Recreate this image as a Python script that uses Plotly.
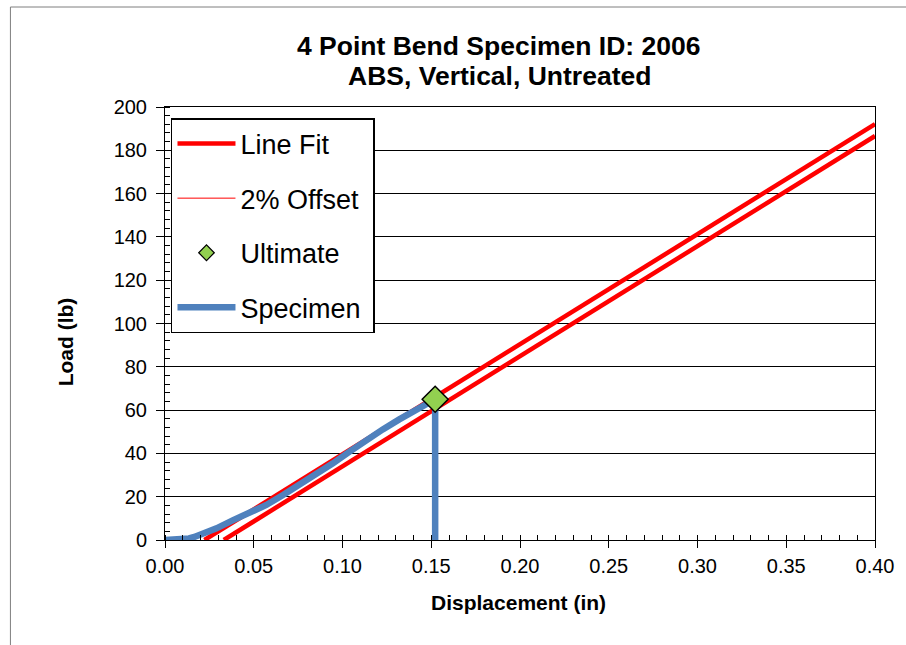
import plotly.graph_objects as go

# ---- data ----
disp = [0.0, 0.0060, 0.0103, 0.0135, 0.0165, 0.0195, 0.0225, 0.029, 0.0384, 0.0478,
        0.0571, 0.0665, 0.0758, 0.0852, 0.0946, 0.104, 0.1133, 0.1227, 0.132,
        0.1414, 0.147, 0.1522, 0.1522]
load = [0.0, 0.0, 0.2, 0.7, 1.4, 2.2, 3.1, 5.4, 9.2, 12.8,
        16.2, 20.8, 25.4, 30.0, 35.4, 40.8, 46.2, 51.1, 55.7,
        60.0, 62.8, 65.0, 0.0]
fit_x = [0.0222, 0.40]
fit_y = [0.0, 192.1]
offset_x = [0.0331, 0.40]
offset_y = [0.0, 186.6]
ult_x = [0.1522]
ult_y = [65.0]

title_lines = ["4 Point Bend Specimen ID: 2006", "ABS, Vertical, Untreated"]
x_title = "Displacement (in)"
y_title = "Load (lb)"

FONT = "Liberation Sans, Arial, sans-serif"
W, H = 906, 645
ML, MR, MT, MB = 165, 29, 107, 105
PW, PH = W - ML - MR, H - MT - MB


def px(x):
    return (x - ML) / PW


def py(y):
    return (H - MB - y) / PH


fig = go.Figure()

fig.add_trace(go.Scatter(x=fit_x, y=fit_y, mode="lines", name="Line Fit",
                         line=dict(color="#FF0000", width=4.5),
                         legendgroup="a", legendrank=1))
fig.add_trace(go.Scatter(x=offset_x, y=offset_y, mode="lines", name="2% Offset",
                         line=dict(color="#FF0000", width=4.5), showlegend=False))
fig.add_trace(go.Scatter(x=[None], y=[None], mode="lines", name="2% Offset",
                         line=dict(color="#FF0000", width=1),
                         legendgroup="b", legendrank=2))
fig.add_trace(go.Scatter(x=disp, y=load, mode="lines", name="Specimen&nbsp;",
                         line=dict(color="#4F81BD", width=6.5),
                         legendgroup="d", legendrank=4))
fig.add_trace(go.Scatter(x=ult_x, y=ult_y, mode="markers", name="Ultimate",
                         marker=dict(symbol="diamond", size=20, color="#92D050",
                                     line=dict(color="black", width=1.5)),
                         showlegend=False))
fig.add_trace(go.Scatter(x=[None], y=[None], mode="markers", name="Ultimate",
                         marker=dict(symbol="diamond", size=12, color="#92D050",
                                     line=dict(color="black", width=1.2)),
                         legendgroup="c", legendrank=3))

fig.update_layout(
    width=W, height=H,
    margin=dict(l=ML, r=MR, t=MT, b=MB, pad=0),
    paper_bgcolor="white", plot_bgcolor="white",
    font=dict(family=FONT, color="black"),
    showlegend=True,
    legend=dict(x=px(171), y=py(118), xanchor="left", yanchor="top",
                bgcolor="white", bordercolor="black", borderwidth=1.5,
                font=dict(size=27, family=FONT, color="black"),
                itemwidth=58, traceorder="grouped", tracegroupgap=16.5),
    xaxis=dict(range=[0, 0.4], dtick=0.05, tickformat=".2f",
               showgrid=False, zeroline=False,
               showline=True, linecolor="black", linewidth=1, mirror=True,
               ticks="outside", ticklen=7, tickcolor="black", tickwidth=1,
               tickfont=dict(size=20, family=FONT, color="black"),
               ticklabelstandoff=1,
               minor=dict(dtick=0.01, ticks="inside", ticklen=5,
                          tickcolor="black", showgrid=False)),
    yaxis=dict(range=[0, 200], dtick=20,
               showgrid=True, gridcolor="black", gridwidth=1, zeroline=False,
               showline=True, linecolor="black", linewidth=1, mirror=True,
               ticks="outside", ticklen=8, tickcolor="black", tickwidth=1,
               tickfont=dict(size=20, family=FONT, color="black"),
               ticklabelstandoff=5,
               minor=dict(dtick=4, ticks="inside", ticklen=5,
                          tickcolor="black", showgrid=False)),
)

# outer chart-area border (extends beyond the window on the right/bottom)
fig.add_shape(type="rect", xref="paper", yref="paper",
              x0=px(10), x1=px(W + 20), y0=py(H + 20), y1=py(7),
              line=dict(color="#7f7f7f", width=1), fillcolor="rgba(0,0,0,0)",
              layer="below")

fig.add_annotation(text="<b>%s</b>" % title_lines[0], xref="paper", yref="paper",
                   x=px(500), y=py(46), xanchor="center", yanchor="middle",
                   showarrow=False, font=dict(size=26.5, family=FONT, color="black"))
fig.add_annotation(text="<b>%s</b>" % title_lines[1], xref="paper", yref="paper",
                   x=px(500), y=py(76), xanchor="center", yanchor="middle",
                   showarrow=False, font=dict(size=26.5, family=FONT, color="black"))
fig.add_annotation(text="<b>%s</b>" % x_title, xref="paper", yref="paper",
                   x=px(519), y=py(602), xanchor="center", yanchor="middle",
                   showarrow=False, font=dict(size=21, family=FONT, color="black"))
fig.add_annotation(text="<b>%s</b>" % y_title, xref="paper", yref="paper",
                   x=px(65), y=py(342), xanchor="center", yanchor="middle",
                   textangle=-90,
                   showarrow=False, font=dict(size=21, family=FONT, color="black"))

fig.write_html("out.html")
